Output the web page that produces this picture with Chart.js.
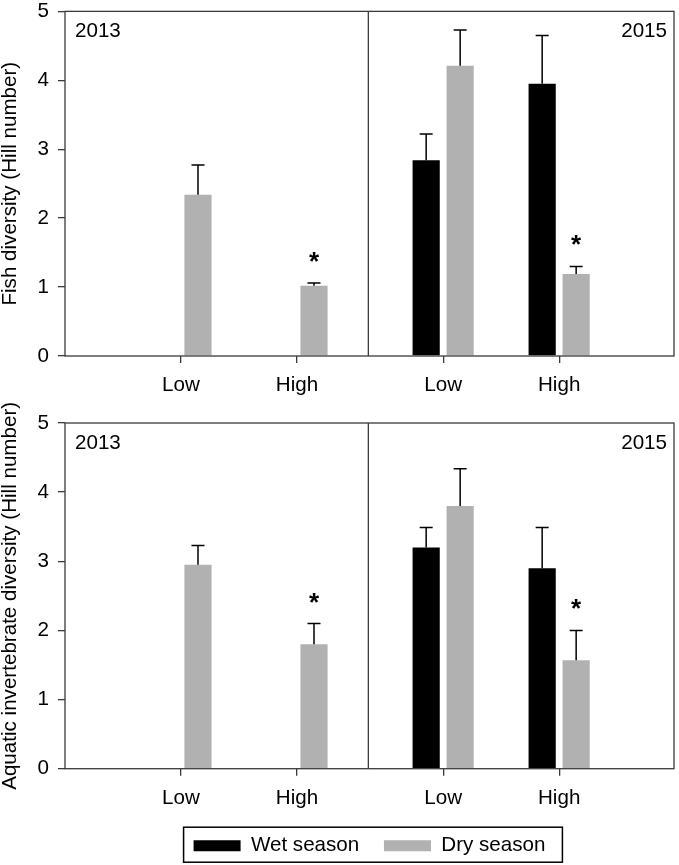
<!DOCTYPE html>
<html>
<head>
<meta charset="utf-8">
<script src="https://cdn.jsdelivr.net/npm/chart.js@4.4.0/dist/chart.umd.min.js"></script>
<style>
  html, body { margin: 0; padding: 0; background: #fff; overflow: hidden; }
  body { width: 679px; height: 865px; position: relative; }
  canvas { position: absolute; left: 0; }
  #fishChart { top: -10px; }
  #invChart { top: 380px; }
</style>
</head>
<body>
<canvas id="fishChart" width="679" height="420"></canvas>
<canvas id="invChart" width="679" height="487"></canvas>
<script>
"use strict";

const years = ['2013', '2015'];
const levels = ['Low', 'High'];
const seasons = ['Wet season', 'Dry season'];
const yTicks = [0, 1, 2, 3, 4, 5];

// order: 2013 Low, 2013 High, 2015 Low, 2015 High (no wet season sampling in 2013)
const fishWet = [null, null, 2.84, 3.95];
const fishWetErr = [null, null, 0.38, 0.70];
const fishDry = [2.34, 1.02, 4.21, 1.19];
const fishDryErr = [0.43, 0.04, 0.52, 0.11];
const fishDrySig = [false, true, false, true];

const invWet = [null, null, 3.20, 2.90];
const invWetErr = [null, null, 0.29, 0.59];
const invDry = [2.95, 1.80, 3.80, 1.57];
const invDryErr = [0.28, 0.30, 0.54, 0.43];
const invDrySig = [false, true, false, true];

const FONT = "'Liberation Sans', Arial, sans-serif";
const axisColor = '#3a3a3a';
const wetColor = '#000000';
const dryColor = '#b1b1b1';

Chart.defaults.font.family = FONT;
Chart.defaults.font.size = 20.6;
Chart.defaults.color = '#000';

// x layout: levels one unit apart, 2015 group shifted right
const yearGap = 2.26;
const xPos = [];
const xLabels = [];
years.forEach((yr, yi) => {
  levels.forEach((lv, li) => {
    xPos.push(1 + li + yi * yearGap);
    xLabels.push(lv);
  });
});
const dividerAt = 2.615;

function makePanel(id, title, wet, wetErr, dry, dryErr, sig, showLegend, xHeight, pad) {
  const errs = [wetErr, dryErr];

  const decor = {
    id: 'decor',
    afterDatasetsDraw(chart) {
      const ctx = chart.ctx;
      const a = chart.chartArea;
      const xs = chart.scales.x;
      const ys = chart.scales.y;
      ctx.save();

      // error bars (upper only) + significance stars
      ctx.strokeStyle = '#000';
      ctx.lineWidth = 1.5;
      for (let d = 0; d < 2; d++) {
        const vals = chart.data.datasets[d].data;
        chart.getDatasetMeta(d).data.forEach((bar, j) => {
          if (vals[j].y == null || errs[d][j] == null) return;
          const top = ys.getPixelForValue(vals[j].y + errs[d][j]);
          ctx.beginPath();
          ctx.moveTo(bar.x, bar.y);
          ctx.lineTo(bar.x, top);
          ctx.moveTo(bar.x - 6.5, top);
          ctx.lineTo(bar.x + 6.5, top);
          ctx.stroke();
          if (d === 1 && sig[j]) {
            ctx.fillStyle = '#000';
            ctx.font = 'bold 26px ' + FONT;
            ctx.textAlign = 'center';
            ctx.textBaseline = 'alphabetic';
            ctx.fillText('*', bar.x, top - 28 + 15);
          }
        });
      }

      // frame and year divider
      ctx.strokeStyle = axisColor;
      ctx.lineWidth = 1.3;
      ctx.strokeRect(a.left, a.top, a.right - a.left, a.bottom - a.top);
      const dx = xs.getPixelForValue(dividerAt);
      ctx.beginPath();
      ctx.moveTo(dx, a.top);
      ctx.lineTo(dx, a.bottom);
      ctx.stroke();

      // year labels
      ctx.fillStyle = '#000';
      ctx.font = '20.6px ' + FONT;
      ctx.textBaseline = 'middle';
      ctx.textAlign = 'left';
      ctx.fillText(years[0], a.left + 10, a.top + 20);
      ctx.textAlign = 'right';
      ctx.fillText(years[1], a.right - 7, a.top + 20);
      ctx.restore();
    },
    afterDraw(chart) {
      if (!showLegend) return;
      const hb = chart.legend.legendHitBoxes;
      if (!hb || !hb.length) return;
      const last = hb[hb.length - 1];
      const mid = hb[0].top + hb[0].height / 2;
      const ctx = chart.ctx;
      ctx.save();
      ctx.strokeStyle = '#000';
      ctx.lineWidth = 1.5;
      const l = hb[0].left - 10;
      const r = last.left + last.width + 17;
      ctx.strokeRect(l, mid - 18.5, r - l, 35);
      ctx.restore();
    }
  };

  return new Chart(document.getElementById(id), {
    type: 'bar',
    data: {
      datasets: [
        {
          label: seasons[0],
          data: xPos.map((x, i) => ({ x: x, y: wet[i] })),
          backgroundColor: wetColor,
          borderWidth: 0
        },
        {
          label: seasons[1],
          data: xPos.map((x, i) => ({ x: x, y: dry[i] })),
          backgroundColor: dryColor,
          borderWidth: 0
        }
      ]
    },
    options: {
      responsive: false,
      animation: false,
      devicePixelRatio: 1,
      layout: { padding: pad },
      datasets: { bar: { categoryPercentage: 0.586, barPercentage: 0.8 } },
      scales: {
        x: {
          type: 'linear',
          min: 0,
          max: 5.25,
          offset: false,
          afterBuildTicks: s => { s.ticks = xPos.map(v => ({ value: v })); },
          afterFit: s => { s.height = xHeight; },
          ticks: {
            callback: (v, i) => xLabels[i],
            padding: 10,
            maxRotation: 0,
            autoSkip: false
          },
          grid: { offset: false, drawOnChartArea: false, tickLength: 7, color: axisColor, lineWidth: 1.3 },
          border: { display: false }
        },
        y: {
          min: yTicks[0],
          max: yTicks[yTicks.length - 1],
          afterBuildTicks: s => { s.ticks = yTicks.map(v => ({ value: v })); },
          afterFit: s => { s.width = 65; },
          ticks: { padding: 9 },
          grid: { drawOnChartArea: false, tickLength: 7, color: axisColor, lineWidth: 1.3 },
          border: { display: false },
          title: {
            display: true,
            text: title,
            padding: 0,
            font: { size: 20.6, lineHeight: 1 }
          }
        }
      },
      plugins: {
        legend: {
          display: showLegend,
          position: 'bottom',
          fullSize: false,
          labels: { boxWidth: 47, boxHeight: 11, padding: 24.7, color: '#000' }
        },
        tooltip: { enabled: false }
      }
    },
    plugins: [decor]
  });
}

makePanel('fishChart', 'Fish diversity (Hill number)',
  fishWet, fishWetErr, fishDry, fishDryErr, fishDrySig,
  false, 54, { top: 20, right: 5, bottom: 0, left: 0 });

makePanel('invChart', 'Aquatic invertebrate diversity (Hill number)',
  invWet, invWetErr, invDry, invDryErr, invDrySig,
  true, 42, { top: 43, right: 5, bottom: 1, left: 0 });
</script>
</body>
</html>
